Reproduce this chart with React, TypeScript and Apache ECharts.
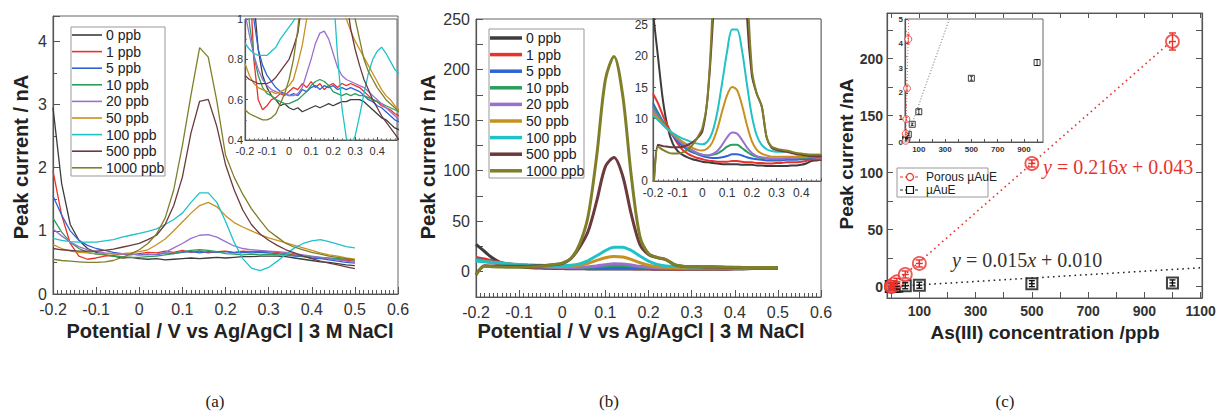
import React, { useEffect, useRef } from "react";
import * as echarts from "echarts";

// ---------- data ----------
const potentials = [-0.2, -0.18, -0.16, -0.14, -0.12, -0.1, -0.08, -0.06, -0.04, -0.02, 0, 0.02, 0.04, 0.06, 0.08, 0.1, 0.12, 0.14, 0.16, 0.18, 0.2, 0.22, 0.24, 0.26, 0.28, 0.3, 0.32, 0.34, 0.36, 0.38, 0.4, 0.42, 0.44, 0.46, 0.48, 0.5];
const concLabels = ["0 ppb", "1 ppb", "5 ppb", "10 ppb", "20 ppb", "50 ppb", "100 ppb", "500 ppb", "1000 ppb"];
const curveColors = ["#3c3c3c", "#e8322c", "#2f63d6", "#2c9e5c", "#9a70cf", "#c8901f", "#1fc2c6", "#6b3a3c", "#7f7f2a"];

// (a) planar microelectrode, nA
const a0 = [2.95, 1.75, 1.1, 0.85, 0.72, 0.66, 0.62, 0.6, 0.57, 0.58, 0.56, 0.55, 0.56, 0.54, 0.55, 0.56, 0.57, 0.56, 0.57, 0.58, 0.57, 0.58, 0.59, 0.59, 0.6, 0.6, 0.6, 0.59, 0.57, 0.55, 0.53, 0.51, 0.5, 0.48, 0.46, 0.45];
const a1 = [1.95, 1.25, 0.8, 0.6, 0.55, 0.57, 0.6, 0.61, 0.63, 0.62, 0.64, 0.66, 0.65, 0.68, 0.66, 0.69, 0.66, 0.68, 0.65, 0.67, 0.68, 0.66, 0.68, 0.67, 0.68, 0.67, 0.66, 0.64, 0.62, 0.6, 0.59, 0.57, 0.56, 0.55, 0.53, 0.52];
const a5 = [1.55, 1.25, 1.0, 0.85, 0.77, 0.72, 0.69, 0.66, 0.64, 0.63, 0.62, 0.63, 0.62, 0.65, 0.64, 0.66, 0.67, 0.65, 0.67, 0.66, 0.67, 0.65, 0.66, 0.65, 0.66, 0.65, 0.64, 0.62, 0.6, 0.59, 0.57, 0.56, 0.54, 0.52, 0.5, 0.49];
const a10 = [1.2, 0.98, 0.82, 0.72, 0.66, 0.63, 0.62, 0.6, 0.59, 0.58, 0.58, 0.59, 0.6, 0.62, 0.64, 0.67, 0.69, 0.7, 0.69, 0.67, 0.64, 0.63, 0.62, 0.63, 0.62, 0.63, 0.62, 0.62, 0.61, 0.6, 0.59, 0.58, 0.57, 0.56, 0.55, 0.54];
const a20 = [1.03, 0.92, 0.82, 0.75, 0.7, 0.67, 0.65, 0.64, 0.63, 0.63, 0.62, 0.62, 0.63, 0.66, 0.73, 0.8, 0.88, 0.93, 0.94, 0.9, 0.83, 0.76, 0.72, 0.7, 0.69, 0.68, 0.67, 0.66, 0.64, 0.62, 0.6, 0.58, 0.56, 0.54, 0.52, 0.5];
const a50 = [0.78, 0.72, 0.68, 0.66, 0.65, 0.64, 0.64, 0.63, 0.64, 0.65, 0.67, 0.7, 0.78, 0.87, 1.0, 1.14, 1.28, 1.4, 1.45, 1.38, 1.24, 1.13, 1.06, 1.0, 0.94, 0.89, 0.85, 0.81, 0.77, 0.73, 0.69, 0.65, 0.62, 0.6, 0.57, 0.55];
const a100 = [0.88, 0.85, 0.83, 0.82, 0.82, 0.82, 0.84, 0.86, 0.9, 0.93, 0.96, 0.99, 1.03, 1.1, 1.18, 1.28, 1.45, 1.6, 1.6, 1.45, 1.15, 0.82, 0.56, 0.41, 0.37, 0.42, 0.52, 0.63, 0.73, 0.8, 0.84, 0.86, 0.83, 0.79, 0.75, 0.73];
const a500 = [0.72, 0.7, 0.69, 0.68, 0.68, 0.68, 0.69, 0.71, 0.74, 0.77, 0.8, 0.86, 0.93, 1.1, 1.4, 1.85, 2.55, 3.05, 3.08, 2.65, 2.05, 1.65, 1.33, 1.1, 0.95, 0.85, 0.77, 0.7, 0.65, 0.6, 0.56, 0.52, 0.49, 0.46, 0.43, 0.4];
const a1000 = [0.55, 0.53, 0.52, 0.51, 0.5, 0.5, 0.51, 0.53, 0.58, 0.63, 0.7, 0.8, 0.95, 1.2, 1.65, 2.35, 3.15, 3.9, 3.75, 3.05, 2.2, 1.85, 1.58, 1.35, 1.17, 1.0, 0.9, 0.8, 0.74, 0.7, 0.66, 0.63, 0.6, 0.58, 0.56, 0.54];

// (b) porous microelectrode, nA
const b0 = [27, 20, 13, 8.5, 6, 4.8, 4.2, 3.8, 3.5, 3.3, 3.1, 3.0, 2.9, 2.8, 2.7, 2.7, 2.7, 2.7, 2.6, 2.6, 2.6, 2.5, 2.5, 2.4, 2.4, 2.4, 2.4, 2.4, 2.5, 2.5, 2.6, 2.8, 3.2, 3.3, 3.4, 3.4];
const b1 = [14, 12.5, 10.5, 8.8, 7.3, 6.0, 5.0, 4.4, 4.0, 3.7, 3.5, 3.3, 3.2, 3.1, 3.1, 3.1, 3.2, 3.2, 3.1, 3.0, 3.0, 2.9, 2.9, 2.8, 2.8, 2.9, 2.9, 3.0, 3.0, 3.0, 3.1, 3.2, 3.5, 3.5, 3.5, 3.5];
const b5 = [12.5, 11, 9.6, 8.4, 7.3, 6.3, 5.6, 5.0, 4.6, 4.3, 4.0, 3.8, 3.7, 3.7, 3.8, 4.0, 4.3, 4.3, 4.1, 3.8, 3.6, 3.5, 3.4, 3.3, 3.3, 3.3, 3.3, 3.4, 3.4, 3.4, 3.5, 3.5, 3.7, 3.8, 3.8, 3.8];
const b10 = [12, 10.7, 9.5, 8.4, 7.5, 6.6, 5.9, 5.3, 4.8, 4.4, 4.2, 4.1, 4.2, 4.4, 4.9, 5.5, 5.8, 5.8, 5.3, 4.7, 4.2, 3.9, 3.7, 3.6, 3.5, 3.5, 3.5, 3.6, 3.6, 3.6, 3.7, 3.7, 3.8, 3.9, 3.9, 3.9];
const b20 = [11.5, 10.3, 9.2, 8.3, 7.5, 6.7, 6.0, 5.4, 4.9, 4.5, 4.2, 4.1, 4.3, 4.8, 5.8, 7.0, 7.8, 7.6, 6.6, 5.4, 4.5, 4.0, 3.8, 3.7, 3.6, 3.6, 3.6, 3.7, 3.7, 3.7, 3.8, 3.8, 3.9, 4.0, 4.0, 4.0];
const b50 = [11, 10, 9.1, 8.3, 7.6, 6.9, 6.3, 5.8, 5.3, 5.0, 4.9, 5.2, 6.2, 8.3, 11.2, 13.8, 15.1, 14.6, 12.2, 9.0, 6.4, 5.0, 4.4, 4.1, 3.9, 3.9, 3.9, 3.9, 3.9, 3.9, 3.9, 3.9, 4.0, 4.0, 4.0, 4.0];
const b100 = [10.5, 9.8, 9.0, 8.3, 7.7, 7.2, 6.8, 6.5, 6.2, 6.0, 5.9, 6.3, 7.8, 11, 15.8, 20.8, 24.3, 24.3, 21, 15.6, 10.5, 7.3, 5.8, 5.1, 4.8, 4.7, 4.7, 4.8, 4.6, 4.4, 4.3, 4.2, 4.2, 4.2, 4.2, 4.2];
const b500 = [-3, 5.8, 5.6, 5.5, 5.4, 5.4, 5.5, 5.8, 6.2, 6.9, 8, 13, 24, 40, 70, 104, 113, 95, 57, 27, 17, 14, 12, 7, 5.3, 5.0, 4.8, 4.7, 4.5, 4.3, 4.2, 4.1, 4.0, 4.0, 4.0, 4.0];
const b1000 = [-3, 5.5, 5.0, 4.6, 4.4, 4.4, 4.6, 5.0, 5.8, 7.0, 8.5, 13, 27, 55, 115, 190, 213, 175, 95, 35, 18, 14, 12, 7, 5.5, 5.2, 5.0, 4.9, 4.7, 4.5, 4.4, 4.3, 4.2, 4.2, 4.2, 4.2];

// (c) calibration
const concentrations = [0, 1, 5, 10, 20, 50, 100, 500, 1000];
const porousCurrent = [0.05, 0.34, 0.93, 2.18, 4.18, 10.6, 20.3, 108, 215];
const porousError = [0.05, 0.05, 0.08, 0.1, 0.2, 0.6, 1.0, 2.0, 7.5];
const microCurrent = [0.1, 0.12, 0.14, 0.18, 0.31, 0.72, 1.23, 2.59, 3.23];
const microError = [0.03, 0.03, 0.03, 0.03, 0.05, 0.05, 0.1, 0.08, 0.12];
const porousFit = [[0, 0.043], [1000, 216.04]];
const microFit = [[0, 0.01], [1105, 16.59]];

// tick labels
const cXLabels = [100, 300, 500, 700, 900, 1100];
const cXTicks = [0, 100, 200, 300, 400, 500, 600, 700, 800, 900, 1000, 1100];
const cYLabels = [0, 50, 100, 150, 200];
const cYTicks = [0, 25, 50, 75, 100, 125, 150, 175, 200, 225];
const cInsetXLabels = [100, 300, 500, 700, 900];
const cInsetXTicks = [0, 100, 200, 300, 400, 500, 600, 700, 800, 900, 1000];

// ---------- styling helpers ----------
const FONT = '"Liberation Sans", Arial, sans-serif';
const SERIF = '"Liberation Serif", "Times New Roman", serif';
const AXC = "#555";
const RED = "#e8322c";

const curvesA = [a0, a1, a5, a10, a20, a50, a100, a500, a1000];
const curvesB = [b0, b1, b5, b10, b20, b50, b100, b500, b1000];

const isTenth = (v: number) => Math.abs(v * 10 - Math.round(v * 10)) < 1e-6;
const plain = (v: number) => String(v);

function axisCommon(fontSize: number, margin: number, tickLen: number, bold = false, lineHeight = fontSize) {
  return {
    axisLine: { show: true, onZero: false, lineStyle: { color: AXC, width: 1.2 } },
    axisTick: { show: true, inside: true, length: tickLen, lineStyle: { color: AXC, width: 1 } },
    axisLabel: { fontSize, lineHeight, color: "#333", fontFamily: FONT, margin, fontWeight: bold ? "bold" : "normal" },
    splitLine: { show: false },
    minorSplitLine: { show: false },
  };
}

function errorBarRenderer(color: string, cap: number, minHalf: number, lw: number, cross: boolean) {
  return (params: any, api: any) => {
    const x = api.value(0);
    const y = api.value(1);
    const e = api.value(2);
    const c = api.coord([x, y]);
    const t = api.coord([x, y + e]);
    const b = api.coord([x, y - e]);
    const up = Math.max(c[1] - t[1], minHalf);
    const dn = Math.max(b[1] - c[1], minHalf);
    const style = { stroke: color, lineWidth: lw };
    const children: any[] = [
      { type: "line", shape: { x1: c[0], y1: c[1] - up, x2: c[0], y2: c[1] + dn }, style },
      { type: "line", shape: { x1: c[0] - cap, y1: c[1] - up, x2: c[0] + cap, y2: c[1] - up }, style },
      { type: "line", shape: { x1: c[0] - cap, y1: c[1] + dn, x2: c[0] + cap, y2: c[1] + dn }, style },
    ];
    if (cross) children.push({ type: "line", shape: { x1: c[0] - cap, y1: c[1], x2: c[0] + cap, y2: c[1] }, style });
    return { type: "group", children };
  };
}

function buildOption() {
  const grids = [
    { left: 53, top: 16, width: 345, height: 278 },
    { left: 245, top: 19, width: 152, height: 121, backgroundColor: "#fff" },
    { left: 476, top: 19, width: 345, height: 278 },
    { left: 653, top: 19, width: 168, height: 162, backgroundColor: "#fff" },
    { left: 887, top: 13, width: 315, height: 285 },
    { left: 905, top: 19, width: 138, height: 123, backgroundColor: "#fff" },
  ].map((g) => ({ ...g, show: true, borderColor: "#666", borderWidth: 1, containLabel: false, outerBoundsMode: "none", backgroundColor: (g as any).backgroundColor || "transparent" }));

  const minorMain = { show: true, splitNumber: 10, length: 4, lineStyle: { color: AXC, width: 1 } };

  const xAxis: any[] = [
    { ...axisCommon(16, 7, 7), type: "value", gridIndex: 0, min: -0.2, max: 0.6, interval: 0.1, minorTick: minorMain },
    { ...axisCommon(11, 5, 3), type: "value", gridIndex: 1, min: -0.2, max: 0.49, interval: 0.1,
      axisLabel: { ...axisCommon(11, 5, 3).axisLabel, formatter: (v: number) => (isTenth(v) ? String(Math.round(v * 10) / 10) : "") },
      minorTick: { show: true, splitNumber: 5, length: 2, lineStyle: { color: AXC, width: 0.6 } } },
    { ...axisCommon(16, 7, 7), type: "value", gridIndex: 2, min: -0.2, max: 0.6, interval: 0.1, minorTick: minorMain },
    { ...axisCommon(12, 6, 3), type: "value", gridIndex: 3, min: -0.2, max: 0.48, interval: 0.1,
      axisLabel: { ...axisCommon(12, 6, 3).axisLabel, formatter: (v: number) => (isTenth(v) ? String(Math.round(v * 10) / 10) : "") },
      minorTick: { show: true, splitNumber: 5, length: 2, lineStyle: { color: AXC, width: 0.6 } } },
    { ...axisCommon(14, 6, 6, true), type: "value", gridIndex: 4, min: -15, max: 1105,
      axisLabel: { ...axisCommon(14, 6, 6, true).axisLabel, customValues: cXLabels, formatter: plain },
      axisTick: { ...axisCommon(14, 6, 6).axisTick, customValues: cXTicks } },
    { ...axisCommon(8, 3, 3, true), type: "value", gridIndex: 5, min: -5, max: 1045,
      axisLabel: { ...axisCommon(8, 3, 3, true).axisLabel, customValues: cInsetXLabels, formatter: plain },
      axisTick: { ...axisCommon(8, 3, 3).axisTick, customValues: cInsetXTicks } },
    { ...axisCommon(14, 6, 5), type: "value", gridIndex: 4, position: "top", min: -15, max: 1105,
      axisLabel: { show: false, customValues: cXLabels },
      axisTick: { ...axisCommon(14, 6, 5).axisTick, customValues: cXTicks } },
  ];

  const yAxis: any[] = [
    { ...axisCommon(16, 6, 7), type: "value", gridIndex: 0, min: 0, max: 4.4, interval: 1,
      axisLabel: { ...axisCommon(16, 6, 7).axisLabel, formatter: (v: number) => (Math.abs(v - Math.round(v)) < 1e-6 ? String(Math.round(v)) : "") },
      minorTick: { show: true, splitNumber: 2, length: 4, lineStyle: { color: AXC, width: 1 } } },
    { ...axisCommon(11, 2, 3, false, 8), type: "value", gridIndex: 1, min: 0.4, max: 1, interval: 0.2,
      minorTick: { show: true, splitNumber: 2, length: 2, lineStyle: { color: AXC, width: 0.6 } } },
    { ...axisCommon(16, 6, 7), type: "value", gridIndex: 2, min: -25, max: 250, interval: 25,
      axisLabel: { ...axisCommon(16, 6, 7).axisLabel, formatter: (v: number) => (Math.round(v) % 50 === 0 ? String(Math.round(v)) : "") } },
    { ...axisCommon(12, 5, 3, false, 8), type: "value", gridIndex: 3, min: 0, max: 26, interval: 5,
      axisLabel: { ...axisCommon(12, 5, 3, false, 8).axisLabel, formatter: (v: number) => (Math.round(v) % 5 === 0 ? String(Math.round(v)) : "") } },
    { ...axisCommon(14, 4, 6, true), type: "value", gridIndex: 4, min: -10, max: 240,
      axisLabel: { ...axisCommon(14, 4, 6, true).axisLabel, customValues: cYLabels, formatter: plain },
      axisTick: { ...axisCommon(14, 4, 6).axisTick, customValues: cYTicks } },
    { ...axisCommon(8, 2, 3, true), type: "value", gridIndex: 5, min: 0, max: 5, interval: 1,
      minorTick: { show: true, splitNumber: 2, length: 2, lineStyle: { color: AXC, width: 0.6 } } },
    { ...axisCommon(14, 4, 6), type: "value", gridIndex: 4, position: "right", min: -10, max: 240,
      axisLabel: { show: false, customValues: cYLabels },
      axisTick: { ...axisCommon(14, 4, 6).axisTick, customValues: cYTicks } },
  ];

  const series: any[] = [];
  const lineSeries = (curves: number[][], axis: number, width: number, smooth: number | boolean) => {
    curves.forEach((arr, i) => {
      series.push({
        type: "line", name: concLabels[i], xAxisIndex: axis, yAxisIndex: axis,
        data: potentials.map((p, k) => [p, arr[k]]),
        showSymbol: false, smooth, clip: true, silent: true,
        lineStyle: { color: curveColors[i], width }, itemStyle: { color: curveColors[i] },
      });
    });
  };
  lineSeries(curvesA, 0, 1.3, false);
  lineSeries(curvesA, 1, 1.3, false);
  lineSeries(curvesB, 2, 3, 0.3);
  lineSeries(curvesB, 3, 2, 0.3);

  const porousPts = concentrations.map((c, i) => [c, porousCurrent[i], porousError[i]]);
  const microPts = concentrations.map((c, i) => [c, microCurrent[i], microError[i]]);

  // (c) main
  series.push(
    { type: "line", xAxisIndex: 4, yAxisIndex: 4, data: porousFit, showSymbol: false, silent: true,
      lineStyle: { color: RED, width: 1.6, type: [1.6, 3.6] } },
    { type: "line", xAxisIndex: 4, yAxisIndex: 4, data: microFit, showSymbol: false, silent: true,
      lineStyle: { color: "#222", width: 1.5, type: [1.6, 3.8] } },
    { type: "scatter", xAxisIndex: 4, yAxisIndex: 4, data: microPts.map((p) => [p[0], p[1]]), symbol: "rect", symbolSize: 11, silent: true,
      itemStyle: { color: "#fff", borderColor: "#111", borderWidth: 2 } },
    { type: "scatter", xAxisIndex: 4, yAxisIndex: 4, data: porousPts.map((p) => [p[0], p[1]]), symbol: "circle", symbolSize: 13, silent: true,
      itemStyle: { color: "#fff", borderColor: RED, borderWidth: 1.8 } },
    { type: "custom", xAxisIndex: 4, yAxisIndex: 4, data: microPts, renderItem: errorBarRenderer("#111", 3, 3, 1.4, true), silent: true, z: 5 },
    { type: "custom", xAxisIndex: 4, yAxisIndex: 4, data: porousPts, renderItem: errorBarRenderer(RED, 3.5, 3.5, 1.4, true), silent: true, z: 5 },
  );
  // (c) inset
  series.push(
    { type: "line", xAxisIndex: 5, yAxisIndex: 5, data: porousFit, showSymbol: false, silent: true, clip: true,
      lineStyle: { color: "#e86a66", width: 1, type: [1, 2] } },
    { type: "line", xAxisIndex: 5, yAxisIndex: 5, data: microFit, showSymbol: false, silent: true, clip: true,
      lineStyle: { color: "#666", width: 1, type: [1, 2] } },
    { type: "scatter", xAxisIndex: 5, yAxisIndex: 5, data: microPts.map((p) => [p[0], p[1]]), symbol: "rect", symbolSize: 6, silent: true, clip: true,
      itemStyle: { color: "#fff", borderColor: "#111", borderWidth: 1 } },
    { type: "scatter", xAxisIndex: 5, yAxisIndex: 5, data: porousPts.map((p) => [p[0], p[1]]), symbol: "circle", symbolSize: 7, silent: true, clip: true,
      itemStyle: { color: "#fff", borderColor: RED, borderWidth: 1 } },
    { type: "custom", xAxisIndex: 5, yAxisIndex: 5, data: microPts.filter((p) => p[1] + p[2] <= 5), clip: true,
      renderItem: errorBarRenderer("#111", 1.5, 0, 0.8, false), silent: true, z: 5 },
    { type: "custom", xAxisIndex: 5, yAxisIndex: 5, data: porousPts.filter((p) => p[1] + p[2] <= 5), clip: true,
      renderItem: errorBarRenderer(RED, 1.5, 0, 0.8, false), silent: true, z: 5 },
  );

  // ---------- graphics: legends, titles, labels ----------
  const g: any[] = [];
  const txt = (x: number, y: number, text: string, font: string, fill = "#222", align = "left", rotation = 0, extra: any = {}) => ({
    type: "text", x, y, rotation, silent: true, z: 10,
    style: { text, font, fill, align, textAlign: align, verticalAlign: "middle", textVerticalAlign: "middle", ...extra },
  });
  concLabels.forEach((lab, i) => {
    const ya = 35 + i * 16.6;
    g.push({ type: "line", silent: true, z: 10, shape: { x1: 72, y1: ya, x2: 102, y2: ya }, style: { stroke: curveColors[i], lineWidth: 1.6 } });
    g.push(txt(106, ya, lab, `14px ${FONT}`));
    const yb = 38 + i * 16.6;
    g.push({ type: "line", silent: true, z: 10, shape: { x1: 490, y1: yb, x2: 522, y2: yb }, style: { stroke: curveColors[i], lineWidth: 3.5 } });
    g.push(txt(526, yb, lab, `14px ${FONT}`));
  });
  g.push({ type: "rect", silent: true, z: 9, shape: { x: 71, y: 27, width: 94, height: 149 }, style: { fill: "#fff", stroke: "#999", lineWidth: 1 } });
  g.push({ type: "rect", silent: true, z: 9, shape: { x: 489, y: 29, width: 95, height: 149 }, style: { fill: "#fff", stroke: "#999", lineWidth: 1 } });

  // (c) legend
  g.push({ type: "rect", silent: true, z: 9, shape: { x: 897, y: 168, width: 91, height: 29 }, style: { fill: "#fff", stroke: "#999", lineWidth: 1 } });
  g.push({ type: "line", silent: true, z: 10, shape: { x1: 900, y1: 177, x2: 920, y2: 177 }, style: { stroke: RED, lineWidth: 1, lineDash: [3, 2] } });
  g.push({ type: "circle", silent: true, z: 11, shape: { cx: 910, cy: 177, r: 3.5 }, style: { fill: "#fff", stroke: RED, lineWidth: 1.2 } });
  g.push(txt(926, 177, "Porous µAuE", `12px ${FONT}`));
  g.push({ type: "line", silent: true, z: 10, shape: { x1: 900, y1: 190, x2: 920, y2: 190 }, style: { stroke: "#222", lineWidth: 1, lineDash: [3, 2] } });
  g.push({ type: "rect", silent: true, z: 11, shape: { x: 906.5, y: 186.5, width: 7, height: 7 }, style: { fill: "#fff", stroke: "#111", lineWidth: 1.2 } });
  g.push(txt(926, 190, "µAuE", `12px ${FONT}`));

  // equations
  g.push(txt(1043, 167, "{i|y} = 0.216{i|x} + 0.043", `20px ${SERIF}`, RED, "left", 0,
    { rich: { i: { fontStyle: "italic", fontFamily: SERIF, fontSize: 20, fill: RED } } }));
  g.push(txt(952, 260, "{i|y} = 0.015{i|x} + 0.010", `20px ${SERIF}`, "#333", "left", 0,
    { rich: { i: { fontStyle: "italic", fontFamily: SERIF, fontSize: 20, fill: "#333" } } }));

  // axis titles
  g.push(txt(21, 157, "Peak current / nA", `bold 20px ${FONT}`, "#222", "center", Math.PI / 2));
  g.push(txt(230, 331, "Potential / V vs Ag/AgCl | 3 M NaCl", `bold 20px ${FONT}`, "#222", "center"));
  g.push(txt(428, 157, "Peak current / nA", `bold 20px ${FONT}`, "#222", "center", Math.PI / 2));
  g.push(txt(641, 331, "Potential / V vs Ag/AgCl | 3 M NaCl", `bold 20px ${FONT}`, "#222", "center"));
  g.push(txt(846, 154, "Peak current /nA", `bold 19px ${FONT}`, "#222", "center", Math.PI / 2));
  g.push(txt(1045, 332, "As(III) concentration /ppb", `bold 19px ${FONT}`, "#222", "center"));

  // panel labels
  g.push(txt(215, 401, "(a)", `17px ${SERIF}`, "#222", "center"));
  g.push(txt(609, 401, "(b)", `17px ${SERIF}`, "#222", "center"));
  g.push(txt(1005, 401, "(c)", `17px ${SERIF}`, "#222", "center"));

  return {
    animation: false,
    backgroundColor: "#fff",
    grid: grids,
    xAxis,
    yAxis,
    series,
    graphic: { elements: g },
  };
}

export default function App() {
  const ref = useRef<HTMLDivElement>(null);
  useEffect(() => {
    if (!ref.current) return;
    const chart = echarts.init(ref.current, null, { renderer: "svg" });
    chart.setOption(buildOption() as any);
    return () => chart.dispose();
  }, []);
  return (
    <div
      ref={ref}
      style={{ position: "absolute", left: 0, top: 0, width: 1218, height: 417, background: "#fff" }}
    />
  );
}
